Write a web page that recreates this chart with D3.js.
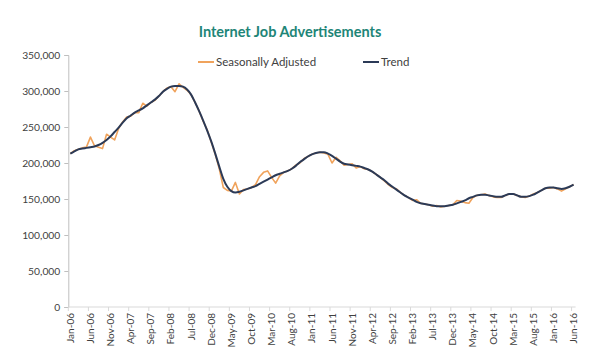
<!DOCTYPE html>
<html><head><meta charset="utf-8">
<script src="https://cdn.jsdelivr.net/npm/d3@7/dist/d3.min.js"></script>
<style>
html,body{margin:0;padding:0;background:#fff;}
svg{display:block;font-family:Lato,"Open Sans",sans-serif;}
</style></head><body>
<svg id="chart" width="590" height="362"></svg>
<script>
const monthNames = ["Jan","Feb","Mar","Apr","May","Jun","Jul","Aug","Sep","Oct","Nov","Dec"];
const startYear = 2006, nMonths = 126;
const months = d3.range(nMonths).map(i => monthNames[i % 12] + "-" + String((startYear + Math.floor(i / 12)) % 100).padStart(2, "0"));

const trend = [213,216,219,220,221,222,223,225,228,232,237,243,
  249,256,262,266,270,273,276,280,284,288,293,299,
  303,306,307,307,306,302,295,284,272,259,245,230,
  213,195,178,167,161,159,160,162,164,166,168,171,
  174,177,180,183,185,187,189,192,196,201,205,209,
  212,214,215,215,213,210,206,202,199,198,197,196,
  195,193,191,188,184,180,176,171,167,163,159,155,
  152,149,146,144,143,142,141,140,140,140,141,142,
  144,146,148,151,153,155,156,156,155,154,153,153,
  155,157,157,155,153,153,154,156,159,162,165,166,
  166,165,164,165,167,170].map(v => v * 1000);

const seasonallyAdjusted = [213,217,219,221,222,236,224,222,220,240,236,232,
  248,257,264,265,270,270,283,279,284,287,293,299,
  304,306,299,310,305,301,295,284,272,258,246,229,
  212,192,166,162,161,173,157,163,164,166,170,181,
  187,189,180,172,182,187,189,192,197,200,206,209,
  212,214,215,214,212,200,208,203,197,198,199,193,
  195,192,191,188,184,180,175,170,166,164,159,155,
  152,148,149,144,143,142,140,141,139,140,141,142,
  148,147,145,144,152,155,156,157,155,153,152,152,
  155,157,157,155,153,152,154,157,159,162,165,165,
  166,164,161,164,167,170].map(v => v * 1000);

const yTicks = [0,50000,100000,150000,200000,250000,300000,350000];
const tickEvery = 5;
const seriesNames = ["Seasonally Adjusted","Trend"];
const colors = {"Seasonally Adjusted":"#F0A35C","Trend":"#2B3A57"};

const svg = d3.select("#chart");
const mLeft = 68.3, mRight = 575.6, mTop = 55, mBottom = 307;

const x = d3.scaleBand().domain(months).range([mLeft, mRight]).padding(0);
const y = d3.scaleLinear().domain([0, 350000]).range([mBottom, mTop]);

// Title
svg.append("text").attr("x", 290).attr("y", 37).attr("text-anchor","middle")
  .attr("font-size", 14.5).attr("font-weight", "bold").attr("fill", "#1E8577")
  .text("Internet Job Advertisements");

// Y axis
const yAxis = svg.append("g").attr("transform", `translate(${mLeft},0)`)
  .call(d3.axisLeft(y).tickValues(yTicks).tickFormat(d3.format(",")).tickSize(4).tickPadding(4));
yAxis.select(".domain").attr("stroke", "#BFBFBF");
yAxis.selectAll(".tick line").attr("stroke", "#BFBFBF");
yAxis.selectAll(".tick text").attr("font-size", 10.3).attr("fill", "#404040")
  .attr("font-family", "Lato,'Open Sans',sans-serif");

// X axis
const xg = svg.append("g").attr("transform", `translate(0,${mBottom})`);
xg.append("line").attr("x1", mLeft).attr("x2", mRight).attr("stroke", "#D9D9D9");
const tickMonths = months.filter((m, i) => i % tickEvery === 0);
xg.selectAll("line.tk").data(tickMonths).join("line").attr("class","tk")
  .attr("x1", d => x(d)).attr("x2", d => x(d)).attr("y1", 0).attr("y2", 4).attr("stroke", "#D9D9D9");
xg.selectAll("text").data(tickMonths).join("text")
  .attr("transform", d => `translate(${x(d) + x.bandwidth()/2 + 3.5},6) rotate(-90)`)
  .attr("text-anchor", "end").attr("font-size", 10).attr("fill", "#404040")
  .text(d => d);

// Lines
const line = d3.line().x((d, i) => x(months[i]) + x.bandwidth()/2).y(d => y(d));
svg.append("path").datum(seasonallyAdjusted).attr("d", line)
  .attr("fill","none").attr("stroke", colors["Seasonally Adjusted"]).attr("stroke-width", 1.6)
  .attr("stroke-linejoin","round");
svg.append("path").datum(trend).attr("d", line.curve(d3.curveMonotoneX))
  .attr("fill","none").attr("stroke", colors["Trend"]).attr("stroke-width", 2)
  .attr("stroke-linejoin","round");

// Legend
const legendPos = [{x:198, name: seriesNames[0]}, {x:363, name: seriesNames[1]}];
const lg = svg.append("g");
legendPos.forEach(p => {
  lg.append("line").attr("x1", p.x).attr("x2", p.x + 16).attr("y1", 62).attr("y2", 62)
    .attr("stroke", colors[p.name]).attr("stroke-width", 2);
  lg.append("text").attr("x", p.x + 18).attr("y", 66).attr("font-size", 11.5)
    .attr("fill", "#404040").text(p.name);
});
</script>
</body></html>
